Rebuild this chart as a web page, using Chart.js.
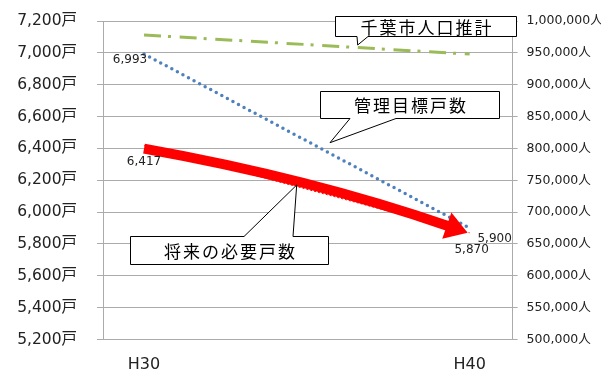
<!DOCTYPE html>
<html>
<head>
<meta charset="utf-8">
<script src="https://cdn.jsdelivr.net/npm/chart.js@4.4.1/dist/chart.umd.min.js"></script>
<style>
  html, body { margin: 0; padding: 0; background: #fff; }
  #wrap { width: 601px; height: 373px; }
</style>
</head>
<body>
<div id="wrap"><canvas id="chart" width="601" height="373"></canvas></div>
<script>
// data
const years = [30, 40];
const yearLabels = ["H30", "H40"];
const requiredUnits = [6417, 5870];   // 将来の必要戸数
const targetUnits = [6993, 5900];     // 管理目標戸数
const population = [978000, 948000];  // 千葉市人口推計

const FONT = "'DejaVu Sans', 'Noto Sans CJK JP', sans-serif";
const CJK = "'Noto Sans CJK JP', sans-serif";
const GRID = "#ababab";

// label nudges (px) for the value labels, by dataset then point
const labelNudge = [
  [[0, 16], [2, 17]],
  [[-14, 6], [25, 11]],
];

// callout boxes: [x0, y0, x1, y1], pointer base x's, pointer tip
const callouts = [
  { text: "千葉市人口推計", box: [335.5, 16.5, 516.5, 36.5], side: "bottom", base: [357, 368], tip: [357.7, 45] },
  { text: "管理目標戸数", box: [320.5, 91.5, 499.5, 118.5], side: "bottom", base: [350, 396], tip: [330, 142.7] },
  { text: "将来の必要戸数", box: [130.5, 236.5, 328.5, 264.5], side: "top", base: [244, 293], tip: [296.7, 185] },
];

const toXY = (vals) => vals.map((v, i) => ({ x: years[i], y: v }));

// 🔴 thick curved arrow over the required-units line
const arrowPlugin = {
  id: "arrow",
  afterDatasetsDraw(chart) {
    const pts = chart.getDatasetMeta(0).data;
    const ctx = chart.ctx;
    const p0 = { x: pts[0].x, y: pts[0].y + 3 };
    const p1 = { x: pts[1].x - 2, y: pts[1].y };
    const dx = p1.x - p0.x, dy = p1.y - p0.y;
    const len = Math.hypot(dx, dy);
    const bow = 13;
    const ctrl = { x: (p0.x + p1.x) / 2 + dy / len * bow, y: (p0.y + p1.y) / 2 - dx / len * bow };
    let ux = p1.x - ctrl.x, uy = p1.y - ctrl.y;
    const ul = Math.hypot(ux, uy);
    ux /= ul; uy /= ul;
    const head = 22, half = 14;
    const base = { x: p1.x - ux * head, y: p1.y - uy * head };
    ctx.save();
    ctx.strokeStyle = "#ff0000";
    ctx.fillStyle = "#ff0000";
    ctx.lineWidth = 10;
    ctx.lineCap = "butt";
    ctx.beginPath();
    ctx.moveTo(p0.x, p0.y);
    ctx.quadraticCurveTo(ctrl.x, ctrl.y, base.x + ux * 2, base.y + uy * 2);
    ctx.stroke();
    ctx.beginPath();
    ctx.moveTo(p1.x, p1.y);
    ctx.lineTo(base.x - uy * half, base.y + ux * half);
    ctx.lineTo(base.x + uy * half, base.y - ux * half);
    ctx.closePath();
    ctx.fill();
    ctx.restore();
  },
};

// 🏷 value labels + callouts
const labelPlugin = {
  id: "labels",
  afterDraw(chart) {
    const ctx = chart.ctx;
    ctx.save();
    ctx.font = "12px " + FONT;
    ctx.fillStyle = "#222";
    ctx.textAlign = "center";
    ctx.textBaseline = "middle";
    labelNudge.forEach((nudges, di) => {
      const meta = chart.getDatasetMeta(di);
      const vals = chart.data.datasets[di].data;
      meta.data.forEach((pt, i) => {
        ctx.fillText(vals[i].y.toLocaleString("en-US"), pt.x + nudges[i][0], pt.y + nudges[i][1]);
      });
    });

    callouts.forEach((c) => {
      const [x0, y0, x1, y1] = c.box;
      ctx.beginPath();
      if (c.side === "bottom") {
        ctx.moveTo(x0, y0);
        ctx.lineTo(x1, y0);
        ctx.lineTo(x1, y1);
        ctx.lineTo(c.base[1], y1);
        ctx.lineTo(c.tip[0], c.tip[1]);
        ctx.lineTo(c.base[0], y1);
        ctx.lineTo(x0, y1);
      } else {
        ctx.moveTo(x0, y0);
        ctx.lineTo(c.base[0], y0);
        ctx.lineTo(c.tip[0], c.tip[1]);
        ctx.lineTo(c.base[1], y0);
        ctx.lineTo(x1, y0);
        ctx.lineTo(x1, y1);
        ctx.lineTo(x0, y1);
      }
      ctx.closePath();
      ctx.fillStyle = "#fff";
      ctx.fill();
      ctx.strokeStyle = "#000";
      ctx.lineWidth = 1;
      ctx.stroke();

      ctx.font = "17px " + CJK;
      ctx.letterSpacing = "2px";
      ctx.fillStyle = "#000";
      ctx.textAlign = "left";
      const w = ctx.measureText(c.text).width - 2;
      ctx.fillText(c.text, (x0 + x1) / 2 - w / 2, (y0 + y1) / 2 + 1);
      ctx.letterSpacing = "0px";
    });
    ctx.restore();
  },
};

const noPad = (s) => { s.paddingTop = 0; s.paddingBottom = 0; };

new Chart(document.getElementById("chart"), {
  type: "line",
  data: {
    datasets: [
      {
        label: "将来の必要戸数",
        data: toXY(requiredUnits),
        yAxisID: "y",
        borderColor: "#ff0000",
        borderWidth: 1,
        borderDash: [2, 2],
        pointRadius: 0,
      },
      {
        label: "管理目標戸数",
        data: toXY(targetUnits),
        yAxisID: "y",
        borderColor: "#4f81bd",
        borderWidth: 3.5,
        borderDash: [0, 6.3],
        borderCapStyle: "round",
        pointRadius: 0,
      },
      {
        label: "千葉市人口推計",
        data: toXY(population),
        yAxisID: "y1",
        borderColor: "#9bbb59",
        borderWidth: 3,
        borderDash: [17, 7, 3, 8.7],
        pointRadius: 0,
      },
    ],
  },
  options: {
    responsive: false,
    animation: false,
    events: [],
    layout: { padding: { top: 21, right: 0, bottom: 0, left: 0 } },
    plugins: { legend: { display: false }, tooltip: { enabled: false } },
    scales: {
      x: {
        type: "linear",
        min: 28.74,
        max: 41.32,
        grid: { display: false, drawTicks: false, tickLength: 0 },
        border: { display: false },
        afterBuildTicks: (s) => { s.ticks = years.map((v) => ({ value: v })); },
        ticks: {
          padding: 16,
          color: "#222",
          font: { family: FONT, size: 16 },
          callback: (v) => yearLabels[years.indexOf(v)],
        },
        afterFit: (s) => { s.height = 373 - 339.5; s.paddingLeft = 0; s.paddingRight = 0; },
      },
      y: {
        position: "left",
        min: 5200,
        max: 7200,
        grid: { color: GRID, tickLength: 6 },
        border: { color: GRID },
        ticks: {
          stepSize: 200,
          padding: 20,
          color: "#222",
          font: { family: FONT, size: 15.5 },
          callback: (v) => v.toLocaleString("en-US") + "戸",
        },
        afterFit: (s) => { s.width = 103; noPad(s); },
      },
      y1: {
        position: "right",
        min: 500000,
        max: 1000000,
        grid: { drawOnChartArea: false, color: GRID, tickLength: 5 },
        border: { color: GRID },
        ticks: {
          stepSize: 50000,
          padding: 9,
          color: "#222",
          font: { family: FONT, size: 12.5 },
          callback: (v) => v.toLocaleString("en-US") + "人",
        },
        afterFit: (s) => { s.width = 601 - 512.6; noPad(s); },
      },
    },
  },
  plugins: [arrowPlugin, labelPlugin],
});
</script>
</body>
</html>
